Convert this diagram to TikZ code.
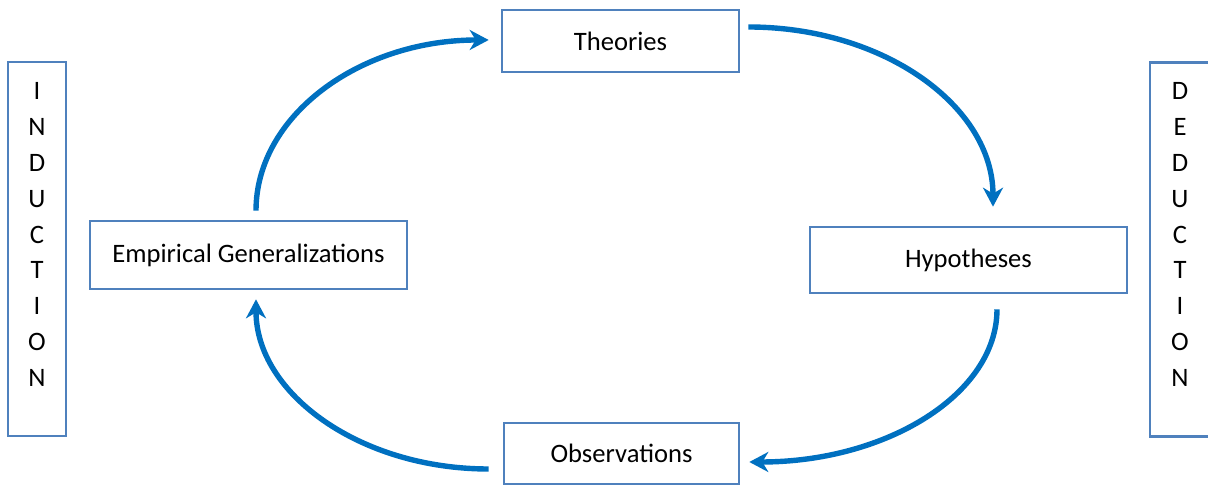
\documentclass[tikz,border=0pt]{standalone}
\usepackage{fontspec}
\setmainfont{Carlito}
\usetikzlibrary{arrows.meta}

\definecolor{boxline}{RGB}{79,129,189}
\definecolor{flow}{RGB}{0,112,192}

\tikzset{
  stagebox/.style={draw=boxline, line width=2.6pt, fill=white, inner sep=0pt,
    font=\fontsize{26.6}{30}\selectfont, text=black},
  sidebox/.style={draw=boxline, line width=2.6pt, inner sep=0pt,
    minimum height=374pt},
  sideword/.style={align=center, inner sep=0pt,
    font=\fontsize{26.6}{35.9}\selectfont, text=black},
  cycle/.style={draw=flow, line width=5.4pt,
    -{Stealth[length=19pt, width=20pt, inset=6pt]}}
}

\begin{document}
\begin{tikzpicture}[x=1pt, y=1pt]
  \useasboundingbox (0,0) rectangle (1208,486);
  \clip (0,0) rectangle (1208,486);

  % stages of the research cycle
  \node[stagebox, minimum width=237pt, minimum height=62pt] (theo) at (620.5,445) {Theories};
  \node[stagebox, minimum width=317pt, minimum height=66pt] (hyp) at (968.5,226) {Hypotheses};
  \node[stagebox, minimum width=317pt, minimum height=68pt] (emp) at (248.5,231) {Empirical Generalizations};
  \node[stagebox, minimum width=235pt, minimum height=61pt] (obs) at (621.5,32.5) {Observations};

  % side labels (the right one runs past the page edge)
  \node[sidebox, minimum width=58pt] (indbox) at (37,237) {};
  \node[sideword] (ind) at (37,251.5) {I\\N\\D\\U\\C\\T\\I\\O\\N};
  \node[sidebox, minimum width=90pt] (dedbox) at (1195,236.5) {};
  \node[sideword] (ded) at (1180,251.5) {D\\E\\D\\U\\C\\T\\I\\O\\N};

  % connector end points next to the stages
  \coordinate (a1) at ([shift={(7.5,9)}]emp.north);
  \coordinate (b1) at ([shift={(-12,1)}]theo.west);
  \coordinate (a2) at ([shift={(8,14)}]theo.east);
  \coordinate (b2) at ([shift={(24.5,19)}]hyp.north);
  \coordinate (a3) at ([shift={(28.5,-15)}]hyp.south);
  \coordinate (b3) at ([shift={(9,-8.5)}]obs.east);
  \coordinate (a4) at ([shift={(-14,-15.5)}]obs.west);
  \coordinate (b4) at ([shift={(7.5,-9)}]emp.south);

  % quarter-ellipse arrows around the cycle
  \draw[cycle] (a1) .. controls ([yshift=95pt]a1) and ([xshift=-129pt]b1) .. (b1);
  \draw[cycle] (a2) .. controls ([xshift=136pt]a2) and ([yshift=100pt]b2) .. (b2);
  \draw[cycle] (a3) .. controls ([yshift=-85pt]a3) and ([xshift=137pt]b3) .. (b3);
  \draw[cycle] (a4) .. controls ([xshift=-129pt]a4) and ([yshift=-94pt]b4) .. (b4);
\end{tikzpicture}
\end{document}
